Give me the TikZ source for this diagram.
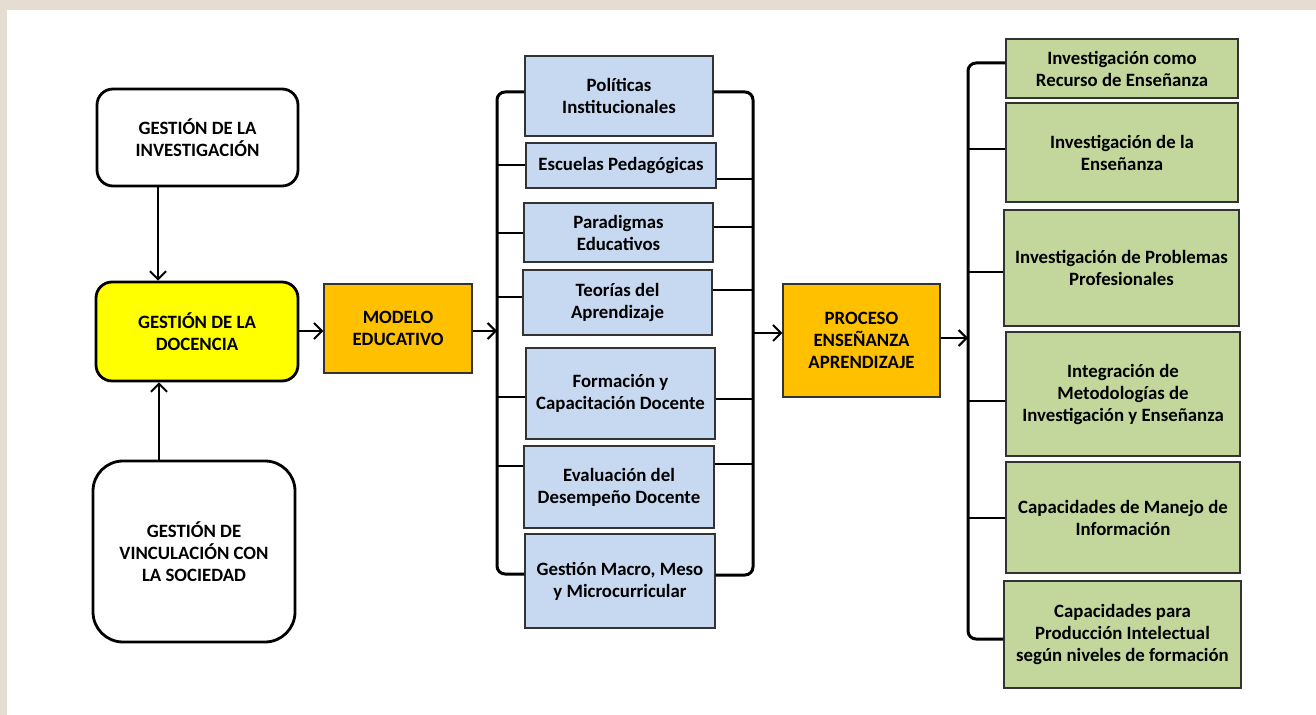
\documentclass[tikz,border=0pt]{standalone}
\usepackage{fontspec}
\setmainfont{Carlito}
\usepackage{tikz}
\usetikzlibrary{arrows.meta,calc}

\definecolor{azul}{HTML}{C6D9F1}
\definecolor{verde}{HTML}{C3D69B}
\definecolor{naranja}{HTML}{FFC000}
\definecolor{amarillo}{HTML}{FFFF00}
\definecolor{papel}{HTML}{E6DDD2}

\begin{document}
\begin{tikzpicture}[
  x=0.5pt, y=-0.5pt,
  font=\fontsize{9.4}{11}\selectfont\bfseries, >={Straight Barb[length=4pt,width=8pt]},
  gestion/.style={draw, line width=1.4pt, rounded corners=8pt, align=center, inner sep=2pt},
  caja/.style={draw=black!80, line width=0.6pt, align=center, inner sep=2pt},
  tema/.style={caja, fill=azul},
  linea/.style={caja, fill=verde},
  eje/.style={caja, fill=naranja},
  llave/.style={line width=1.5pt, rounded corners=4pt},
  rama/.style={line width=1pt},
  flecha/.style={->, line width=1pt},
]
\useasboundingbox (0,0) rectangle (1316,715);
\fill[papel] (0,0) rectangle (1316,715);
\fill[white] (7,10) rectangle (1316,715);

% gestiones
\node[gestion, minimum width=100.5pt, minimum height=48.5pt] (inv) at (197.5,137.5) {GESTIÓN DE LA\\INVESTIGACIÓN};
\node[gestion, fill=amarillo, minimum width=101pt, minimum height=49.5pt] (doc) at (197,331.5) {GESTIÓN DE LA\\DOCENCIA};
\node[gestion, rounded corners=15pt, minimum width=101pt, minimum height=90.5pt] (vinc) at (194,551.5) {GESTIÓN DE\\VINCULACIÓN CON\\LA SOCIEDAD};

\node[eje, minimum width=74pt, minimum height=44.5pt] (mod) at (398,328.5) {MODELO\\EDUCATIVO};
\node[eje, minimum width=78.5pt, minimum height=56.5pt] (pro) at (861.5,340.5) {PROCESO\\ENSEÑANZA\\APRENDIZAJE};

% componentes del modelo
\node[tema, minimum width=94pt, minimum height=40pt] (pol) at (619,96) {Políticas\\Institucionales};
\node[tema, minimum width=95pt, minimum height=22.5pt] (esc) at (621,165.5) {Escuelas Pedagógicas};
\node[tema, minimum width=94.5pt, minimum height=29.5pt] (par) at (618.5,232.5) {Paradigmas\\Educativos};
\node[tema, minimum width=94.5pt, minimum height=32.5pt] (teo) at (617.5,302.5) {Teorías del\\Aprendizaje};
\node[tema, minimum width=94.5pt, minimum height=45.5pt] (for) at (620.5,393.5) {Formación y\\Capacitación Docente};
\node[tema, minimum width=95pt, minimum height=41pt] (eva) at (619,487) {Evaluación del\\Desempeño Docente};
\node[tema, minimum width=95pt, minimum height=47pt] (gmc) at (620,581) {Gestión Macro, Meso\\y Microcurricular};

% lineas de investigacion
\node[linea, minimum width=116pt, minimum height=29.5pt] (g1) at (1122,68.5) {Investigación como\\Recurso de Enseñanza};
\node[linea, minimum width=116pt, minimum height=49.5pt] (g2) at (1122,152.5) {Investigación de la\\Enseñanza};
\node[linea, minimum width=117.5pt, minimum height=58pt] (g3) at (1121.5,268) {Investigación de Problemas\\Profesionales};
\node[linea, minimum width=117pt, minimum height=62pt] (g4) at (1123,394) {Integración de\\Metodologías de\\Investigación y Enseñanza};
\node[linea, minimum width=117pt, minimum height=55.5pt] (g5) at (1123,517.5) {Capacidades de Manejo de\\Información};
\node[linea, minimum width=118.5pt, minimum height=53.5pt] (g6) at (1122.5,634.5) {Capacidades para\\Producción Intelectual\\según niveles de formación};

% llaves
\coordinate (lbT) at (497,92);
\coordinate (lbB) at (497,574);
\coordinate (rbT) at (753,92);
\coordinate (rbB) at (753,575);
\coordinate (gbT) at (968,63);
\coordinate (gbB) at (968,639);

\draw[llave] (pol.west |- lbT) -- (lbT) -- (lbB) -- (gmc.west |- lbB);
\draw[llave] (pol.east |- rbT) -- (rbT) -- (rbB) -- (gmc.east |- rbB);
\draw[llave] (g1.west |- gbT) -- (gbT) -- (gbB) -- (g6.west |- gbB);

\draw[rama] (esc.west |- 0,165) -- (lbT |- 0,165);
\draw[rama] (par.west |- 0,233) -- (lbT |- 0,233);
\draw[rama] (teo.west |- 0,297) -- (lbT |- 0,297);
\draw[rama] (for.west |- 0,397) -- (lbT |- 0,397);
\draw[rama] (eva.west |- 0,466) -- (lbT |- 0,466);
\draw[rama] (esc.east |- 0,179) -- (rbT |- 0,179);
\draw[rama] (par.east |- 0,227) -- (rbT |- 0,227);
\draw[rama] (teo.east |- 0,290) -- (rbT |- 0,290);
\draw[rama] (for.east |- 0,399) -- (rbT |- 0,399);
\draw[rama] (eva.east |- 0,464) -- (rbT |- 0,464);

\draw[rama] (g2.west |- 0,149) -- (gbT |- 0,149);
\draw[rama] (g3.west |- 0,272) -- (gbT |- 0,272);
\draw[rama] (g4.west |- 0,401) -- (gbT |- 0,401);
\draw[rama] (g5.west |- 0,518) -- (gbT |- 0,518);

% flechas
\draw[flecha] (inv.south -| 158,0) -- (doc.north -| 158,0);
\draw[flecha] (vinc.north -| 159,0) -- (doc.south -| 159,0);
\draw[flecha] (doc.east |- 0,331) -- (mod.west |- 0,331);
\draw[flecha] (mod.east |- 0,331) -- (lbT |- 0,331);
\draw[flecha] (rbT |- 0,333) -- (pro.west |- 0,333);
\draw[flecha] (pro.east |- 0,338) -- (gbT |- 0,338);
\end{tikzpicture}
\end{document}
